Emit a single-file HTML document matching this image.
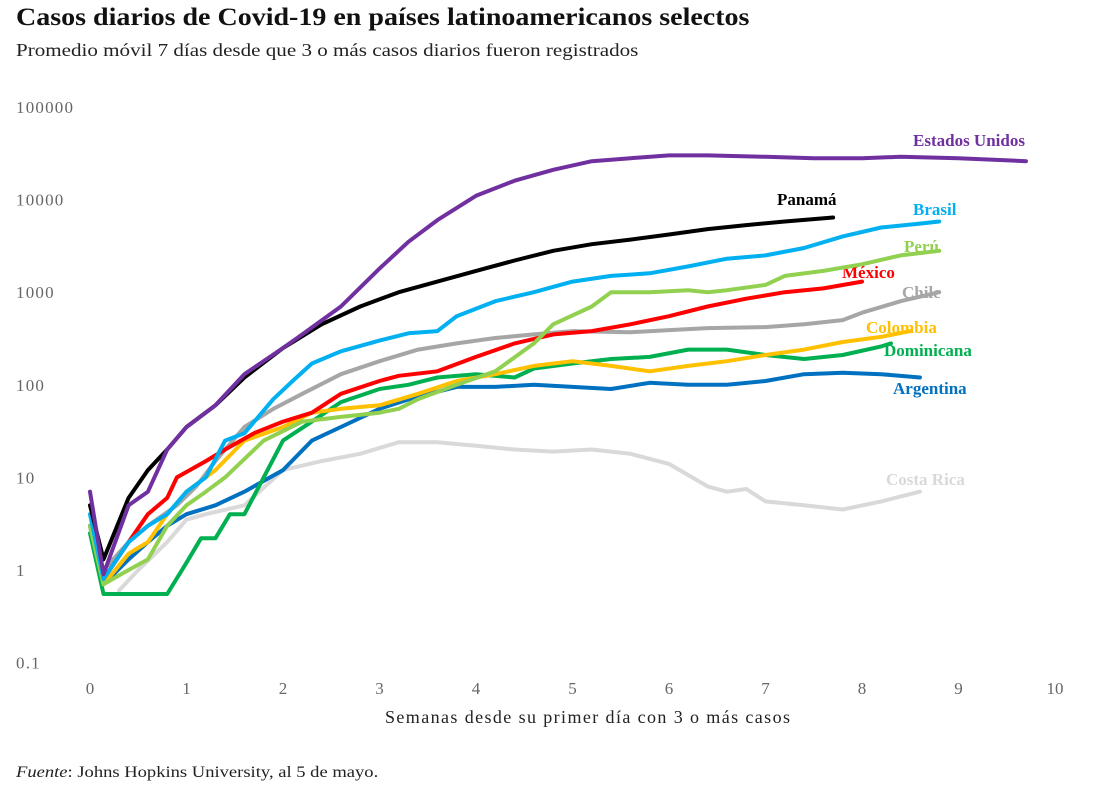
<!DOCTYPE html>
<html><head><meta charset="utf-8"><style>
body{margin:0;background:#fff;width:1097px;height:792px;overflow:hidden;font-family:"Liberation Serif",serif}
#title,#sub,#src{transform-origin:0 0;white-space:nowrap}
#title{position:absolute;left:16px;top:4px;font-size:25px;font-weight:bold;color:#111;transform:scaleX(1.12)}
#sub{position:absolute;left:16px;top:40px;font-size:18px;color:#222;transform:scaleX(1.17)}
#src{position:absolute;left:16px;top:764px;font-size:16px;color:#222;transform:scaleX(1.16)}
svg{position:absolute;left:0;top:0}
</style></head><body>
<div id="title">Casos diarios de Covid-19 en países latinoamericanos selectos</div>
<div id="sub">Promedio móvil 7 días desde que 3 o más casos diarios fueron registrados</div>
<div id="src"><i>Fuente</i>: Johns Hopkins University, al 5 de mayo.</div>
<svg id="chart" width="1097" height="792"></svg>
<script>
const xTicks=[0,1,2,3,4,5,6,7,8,9,10];
const yTicks=[0.1,1,10,100,1000,10000,100000];
const seriesNames=["Costa Rica","Argentina","Dominicana","Colombia","Chile","México","Perú","Brasil","Panamá","Estados Unidos"];
const costaRicaX=[0.3,0.5,0.8,1,1.2,1.6,2,2.4,2.8,3.2,3.6,4,4.4,4.8,5.2,5.6,6,6.4,6.6,6.8,7,7.4,7.8,8.2,8.6];
const costaRicaY=[0.6,1,2,3.5,4,5,12,15,18,24,24,22,20,19,20,18,14,8,7,7.5,5.5,5,4.5,5.5,7];
const argentinaX=[0,0.14,0.4,0.6,0.8,1,1.3,1.6,2,2.3,2.6,3,3.4,3.8,4.2,4.6,5,5.4,5.8,6.2,6.6,7,7.4,7.8,8.2,8.6];
const argentinaY=[3,0.7,1.3,2,3,4,5,7,12,25,35,55,75,95,95,100,95,90,105,100,100,110,130,135,130,120];
const dominicanaX=[0,0.14,0.8,1,1.15,1.3,1.45,1.6,1.8,2,2.3,2.6,3,3.3,3.6,4,4.4,4.6,5,5.4,5.8,6.2,6.6,7,7.4,7.8,8.2,8.3];
const dominicanaY=[2.5,0.55,0.55,1.2,2.2,2.2,4,4,10,25,40,65,90,100,120,130,120,150,170,190,200,240,240,210,190,210,260,280];
const colombiaX=[0,0.14,0.4,0.6,0.8,1,1.3,1.6,2,2.3,2.6,3,3.4,3.8,4.2,4.6,5,5.4,5.8,6.2,6.6,7,7.4,7.8,8.2,8.5];
const colombiaY=[3,0.7,1.5,2,4,7,12,25,35,50,55,60,80,110,130,160,180,160,140,160,180,210,240,290,330,380];
const chileX=[0,0.14,0.4,0.6,0.9,1.1,1.3,1.6,1.9,2.2,2.6,3,3.4,3.8,4.2,4.6,5,5.6,6,6.4,7,7.4,7.8,8,8.4,8.8];
const chileY=[3,1,2,3,5,8,15,35,55,80,130,180,240,280,320,350,380,370,390,410,420,450,500,600,800,1000];
const mexicoX=[0,0.14,0.4,0.6,0.8,0.9,1.2,1.4,1.7,2,2.3,2.6,3,3.2,3.6,4,4.4,4.8,5.2,5.6,6,6.4,6.8,7.2,7.6,8];
const mexicoY=[3,0.8,2,4,6,10,15,20,30,40,50,80,110,125,140,200,280,350,380,450,550,700,850,1000,1100,1300];
const peruX=[0,0.14,0.4,0.6,0.8,1,1.2,1.4,1.8,2.2,2.6,3,3.2,3.4,3.8,4.2,4.6,4.8,5.2,5.4,5.8,6.2,6.4,6.6,7,7.2,7.6,8,8.4,8.8];
const peruY=[3,0.7,1,1.3,3,5,7,10,25,40,45,50,55,70,100,140,280,450,700,1000,1000,1050,1000,1050,1200,1500,1700,2000,2500,2800];
const brasilX=[0,0.14,0.4,0.6,0.8,1,1.2,1.4,1.6,1.9,2.1,2.3,2.6,3,3.3,3.6,3.8,4.2,4.6,5,5.4,5.8,6.2,6.6,7,7.4,7.8,8.2,8.6,8.8];
const brasilY=[4,0.8,2,3,4,7,10,25,30,70,110,170,230,300,360,380,550,800,1000,1300,1500,1600,1900,2300,2500,3000,4000,5000,5500,5800];
const panamaX=[0,0.14,0.4,0.6,0.8,1,1.3,1.6,2,2.4,2.8,3.2,3.6,4,4.4,4.8,5.2,5.6,6,6.4,6.8,7.2,7.7];
const panamaY=[5,1.3,6,12,20,35,60,120,250,450,700,1000,1300,1700,2200,2800,3300,3700,4200,4800,5300,5800,6400];
const usaX=[0,0.14,0.4,0.6,0.8,1,1.3,1.6,2,2.2,2.6,3,3.3,3.6,4,4.4,4.8,5.2,5.6,6,6.4,7,7.5,8,8.4,9,9.7];
const usaY=[7,0.9,5,7,20,35,60,130,250,350,700,1800,3500,6000,11000,16000,21000,26000,28000,30000,30000,29000,28000,28000,29000,28000,26000];
const allX=[costaRicaX,argentinaX,dominicanaX,colombiaX,chileX,mexicoX,peruX,brasilX,panamaX,usaX];
const allY=[costaRicaY,argentinaY,dominicanaY,colombiaY,chileY,mexicoY,peruY,brasilY,panamaY,usaY];
const colors=["#d9d9d9","#0070c0","#00b050","#ffc000","#a6a6a6","#ff0000","#92d050","#00b0f0","#000000","#7030a0"];
const labelPos=[[886,485],[893,394],[884,356],[866,333],[902,298],[842,278],[904,252],[913,215],[777,205],[913,146]];
const svg=document.getElementById('chart');
const NS="http://www.w3.org/2000/svg";
const X=v=>90+v*96.5;
const Y=v=>570-Math.log10(v)*92.6;
function mk(t,a){const e=document.createElementNS(NS,t);for(const k in a)e.setAttribute(k,a[k]);svg.appendChild(e);return e;}
xTicks.forEach(t=>{const e=mk('text',{x:X(t),y:694,'text-anchor':'middle','font-size':17,fill:'#666','font-family':'Liberation Serif,serif'});e.textContent=t;

});
yTicks.forEach(t=>{const e=mk('text',{x:16,y:Y(t)+6,'font-size':17,fill:'#666','letter-spacing':1.2,'font-family':'Liberation Serif,serif'});e.textContent=t;

});
const xt=mk('text',{x:385,y:723,'font-size':18,fill:'#222','textLength':405,'font-family':'Liberation Serif,serif'});xt.textContent='Semanas desde su primer día con 3 o más casos';


seriesNames.forEach((n,i)=>{
const d=allX[i].map((x,j)=>(j?'L':'M')+X(x).toFixed(1)+','+Y(allY[i][j]).toFixed(1)).join('');
const p=mk('path',{d:d,fill:'none',stroke:colors[i],'stroke-width':4,'stroke-linejoin':'round','stroke-linecap':'round'});


const l=mk('text',{x:labelPos[i][0],y:labelPos[i][1],'font-size':17,'font-weight':'bold',fill:colors[i],'font-family':'Liberation Serif,serif'});l.textContent=n;


});
</script>
</body></html>
